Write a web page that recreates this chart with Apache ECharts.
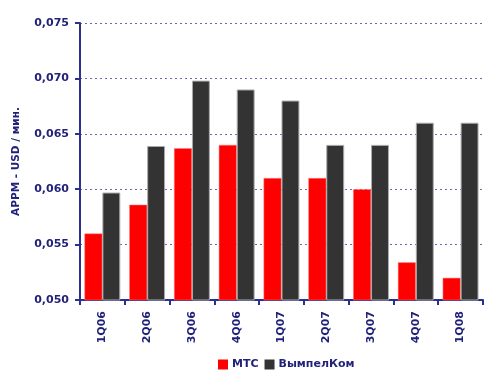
<!DOCTYPE html>
<html><head><meta charset="utf-8">
<script src="https://cdn.jsdelivr.net/npm/echarts@6/dist/echarts.min.js"></script>
<style>html,body{margin:0;padding:0;background:#fff}#c{width:500px;height:378px}</style>
</head><body><div id="c"></div>
<script>
const categories = ['1Q06','2Q06','3Q06','4Q06','1Q07','2Q07','3Q07','4Q07','1Q08'];
const mts = [0.0560,0.0586,0.0637,0.0640,0.0610,0.0610,0.0600,0.0534,0.0520];
const vimpel = [0.0597,0.0639,0.0698,0.0690,0.0680,0.0640,0.0640,0.0660,0.0660];
const seriesNames = ['МТС','ВымпелКом'];
const axisColor = '#2b2f8f';
const textColor = '#22227a';
const font = 'DejaVu Sans';
const chart = echarts.init(document.getElementById('c'));
chart.setOption({
  animation:false,
  grid:{left:80,right:17,top:23,bottom:78},
  legend:{bottom:3,left:213,itemWidth:10,itemHeight:10,itemGap:6,icon:'rect',
    itemStyle:{borderWidth:0},
    textStyle:{color:textColor,fontFamily:font,fontSize:11,fontWeight:'bold',padding:[0,0,0,-1]},data:seriesNames},
  xAxis:{type:'category',data:categories,
    axisLine:{lineStyle:{color:axisColor,width:2}},
    axisTick:{show:true,length:5,lineStyle:{color:axisColor,width:2}},
    axisLabel:{rotate:90,color:textColor,fontFamily:font,fontSize:11,fontWeight:'bold',margin:11}},
  yAxis:{type:'value',min:0.050,max:0.075,interval:0.005,
    name:'APPM - USD / мин.',nameLocation:'middle',nameGap:58,nameRotate:90,
    nameTextStyle:{color:textColor,fontFamily:font,fontSize:10.5,fontWeight:'bold'},
    axisLine:{show:true,lineStyle:{color:axisColor,width:2}},
    axisTick:{show:true,length:5,lineStyle:{color:axisColor,width:2}},
    axisLabel:{color:textColor,fontFamily:font,fontSize:11,fontWeight:'bold',margin:11,
      formatter:v=>v.toFixed(3).replace('.',',')},
    splitLine:{lineStyle:{color:'#6a6ab0',type:[2,3],width:1}}},
  series:[
    {name:seriesNames[0],type:'bar',data:mts,barGap:'0%',barCategoryGap:'20%',
     itemStyle:{color:'#ff0000',borderColor:'#ff8080',borderWidth:0.5}},
    {name:seriesNames[1],type:'bar',data:vimpel,
     itemStyle:{color:'#333333',borderColor:'#aaaaaa',borderWidth:1}}
  ]
});
</script></body></html>
